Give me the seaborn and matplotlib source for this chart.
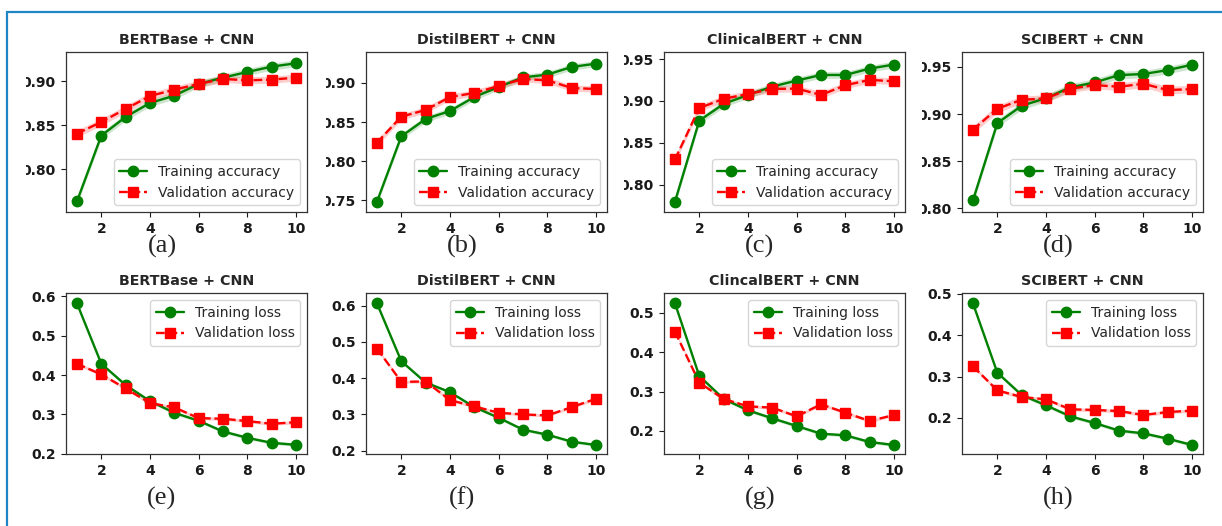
import numpy as np
import matplotlib
matplotlib.use("Agg")
import matplotlib.pyplot as plt
import seaborn as sns
from matplotlib.patches import Rectangle
from matplotlib.ticker import MultipleLocator
from matplotlib.transforms import Bbox, TransformedBbox

# ---- data -------------------------------------------------------------
epochs = [1, 2, 3, 4, 5, 6, 7, 8, 9, 10]

acc_titles = ["BERTBase + CNN", "DistilBERT + CNN", "ClinicalBERT + CNN", "SCIBERT + CNN"]
loss_titles = ["BERTBase + CNN", "DistilBERT + CNN", "ClincalBERT + CNN", "SCIBERT + CNN"]
acc_tags = ["(a)", "(b)", "(c)", "(d)"]
loss_tags = ["(e)", "(f)", "(g)", "(h)"]

bertbase_train_acc = [0.7636, 0.8383, 0.8595, 0.8754, 0.8837, 0.8970, 0.9042, 0.9106, 0.9167, 0.9205]
bertbase_val_acc = [0.8405, 0.8538, 0.8686, 0.8833, 0.8905, 0.8970, 0.9027, 0.9011, 0.9019, 0.9042]
distil_train_acc = [0.7483, 0.8318, 0.8540, 0.8642, 0.8821, 0.8949, 0.9072, 0.9107, 0.9205, 0.9247]
distil_val_acc = [0.8237, 0.8570, 0.8655, 0.8821, 0.8872, 0.8962, 0.9051, 0.9034, 0.8936, 0.8923]
clinical_train_acc = [0.7797, 0.8765, 0.8964, 0.9072, 0.9171, 0.9243, 0.9310, 0.9310, 0.9386, 0.9434]
clinical_val_acc = [0.8301, 0.8916, 0.9024, 0.9084, 0.9143, 0.9147, 0.9072, 0.9187, 0.9251, 0.9235]
scibert_train_acc = [0.8085, 0.8904, 0.9088, 0.9170, 0.9283, 0.9336, 0.9414, 0.9425, 0.9467, 0.9524]
scibert_val_acc = [0.8834, 0.9057, 0.9152, 0.9166, 0.9269, 0.9308, 0.9290, 0.9322, 0.9255, 0.9265]

bertbase_train_loss = [0.5822, 0.4288, 0.3746, 0.3338, 0.3042, 0.2839, 0.2567, 0.2406, 0.2279, 0.2228]
bertbase_val_loss = [0.4288, 0.4017, 0.3660, 0.3288, 0.3178, 0.2907, 0.2890, 0.2831, 0.2763, 0.2803]
distil_train_loss = [0.6064, 0.4469, 0.3880, 0.3614, 0.3202, 0.2908, 0.2579, 0.2441, 0.2248, 0.2156]
distil_val_loss = [0.4816, 0.3899, 0.3908, 0.3395, 0.3221, 0.3046, 0.3000, 0.2972, 0.3202, 0.3432]
clinical_train_loss = [0.5246, 0.3398, 0.2814, 0.2525, 0.2322, 0.2127, 0.1932, 0.1890, 0.1720, 0.1644]
clinical_val_loss = [0.4525, 0.3229, 0.2814, 0.2627, 0.2593, 0.2373, 0.2678, 0.2466, 0.2254, 0.2407]
scibert_train_loss = [0.4774, 0.3097, 0.2556, 0.2306, 0.2040, 0.1879, 0.1694, 0.1629, 0.1500, 0.1347]
scibert_val_loss = [0.3250, 0.2669, 0.2508, 0.2452, 0.2210, 0.2194, 0.2169, 0.2073, 0.2145, 0.2177]

# half-width of the run-to-run spread band around each curve
acc_spread = 0.004
loss_spread = 0.004

train_acc = [bertbase_train_acc, distil_train_acc, clinical_train_acc, scibert_train_acc]
val_acc = [bertbase_val_acc, distil_val_acc, clinical_val_acc, scibert_val_acc]
train_loss = [bertbase_train_loss, distil_train_loss, clinical_train_loss, scibert_train_loss]
val_loss = [bertbase_val_loss, distil_val_loss, clinical_val_loss, scibert_val_loss]

# y-axis ranges of each panel
acc_ylims = [(0.7515, 0.9333), (0.7351, 0.9396), (0.7674, 0.9584), (0.7961, 0.9659)]
loss_ylims = [(0.1995, 0.6085), (0.1908, 0.6350), (0.1415, 0.5508), (0.1129, 0.5024)]

# ---- style ------------------------------------------------------------
sns.set_style("ticks")
plt.rcParams["font.family"] = ["DejaVu Sans"]
plt.rcParams["font.weight"] = "bold"
plt.rcParams["axes.titleweight"] = "bold"
plt.rcParams["axes.edgecolor"] = "0.2"
plt.rcParams["axes.linewidth"] = 0.9
plt.rcParams["xtick.color"] = "0.1"
plt.rcParams["ytick.color"] = "0.1"
plt.rcParams["xtick.major.size"] = 3.5
plt.rcParams["ytick.major.size"] = 3.5
plt.rcParams["xtick.major.width"] = 0.8
plt.rcParams["ytick.major.width"] = 0.8
plt.rcParams["xtick.major.pad"] = 4
plt.rcParams["ytick.major.pad"] = 4

GREEN = "green"
RED = "red"
TICK_FS = 10
TITLE_FS = 10.3
LEGEND_FS = 10
TAG_FS = 19

W, H = 1222, 526
fig = plt.figure(figsize=(W / 100, H / 100), dpi=100)

lefts = [66, 366, 664, 962]
ax_w = 241
rows = [(52, 212), (293, 454)]
tag_x = [162, 462, 760, 1058]
tag_y = [246, 498]


def make_axes(left, top, bottom):
    return fig.add_axes([left / W, 1 - bottom / H, ax_w / W, (bottom - top) / H])


def draw_panel(ax, train, val, spread, train_label, val_label, loc, title, ylim, step):
    tr = np.asarray(train)
    va = np.asarray(val)
    ax.fill_between(epochs, tr - spread, tr + spread, color=GREEN, alpha=0.2, linewidth=0)
    ax.fill_between(epochs, va - spread, va + spread, color=RED, alpha=0.2, linewidth=0)
    sns.lineplot(x=epochs, y=train, ax=ax, color=GREEN, marker="o", markersize=7.5,
                 markeredgecolor=GREEN, markeredgewidth=1, linewidth=1.7, label=train_label)
    sns.lineplot(x=epochs, y=val, ax=ax, color=RED, marker="s", markersize=7,
                 markeredgecolor=RED, markeredgewidth=1, linewidth=1.7, linestyle="--",
                 label=val_label)
    ax.set_xlim(0.55, 10.45)
    ax.set_xticks([2, 4, 6, 8, 10])
    ax.set_ylim(*ylim)
    ax.yaxis.set_major_locator(MultipleLocator(step))
    ax.set_xlabel("")
    ax.set_ylabel("")
    ax.tick_params(labelsize=TICK_FS)
    ax.set_title(title, fontsize=TITLE_FS, fontweight="bold", pad=6)
    ax.legend(loc=loc, prop={"size": LEGEND_FS, "weight": "normal"}, frameon=True,
              fancybox=True, framealpha=0.8, edgecolor="0.8")


top_axes = []
for i in range(4):
    ax = make_axes(lefts[i], *rows[0])
    draw_panel(ax, train_acc[i], val_acc[i], acc_spread, "Training accuracy",
               "Validation accuracy", "lower right", acc_titles[i], acc_ylims[i], 0.05)
    top_axes.append(ax)
    fig.text(tag_x[i] / W, 1 - tag_y[0] / H, acc_tags[i], ha="center", va="center",
             family="Liberation Serif", fontsize=TAG_FS, fontweight="normal")

for i in range(4):
    ax = make_axes(lefts[i], *rows[1])
    draw_panel(ax, train_loss[i], val_loss[i], loss_spread, "Training loss",
               "Validation loss", "upper right", loss_titles[i], loss_ylims[i], 0.1)
    fig.text(tag_x[i] / W, 1 - tag_y[1] / H, loss_tags[i], ha="center", va="center",
             family="Liberation Serif", fontsize=TAG_FS, fontweight="normal")

# outer frame (top and left edges in view)
fig.add_artist(Rectangle((6.5 / W, -0.2), 1.2, (H - 12) / H + 0.2, transform=fig.transFigure,
                         fill=False, edgecolor="#1f86c6", linewidth=1.6))

# the accuracy panels are cropped tightly on their left side
fig.canvas.draw()
for ax, left in zip(top_axes, lefts):
    clip = TransformedBbox(Bbox([[(left - 40) / W, 0], [1, 1]]), fig.transFigure)
    for tick in ax.yaxis.get_major_ticks():
        tick.label1.set_clip_box(clip)
        tick.label1.set_clip_on(True)

fig.savefig("out.png", dpi=100)
